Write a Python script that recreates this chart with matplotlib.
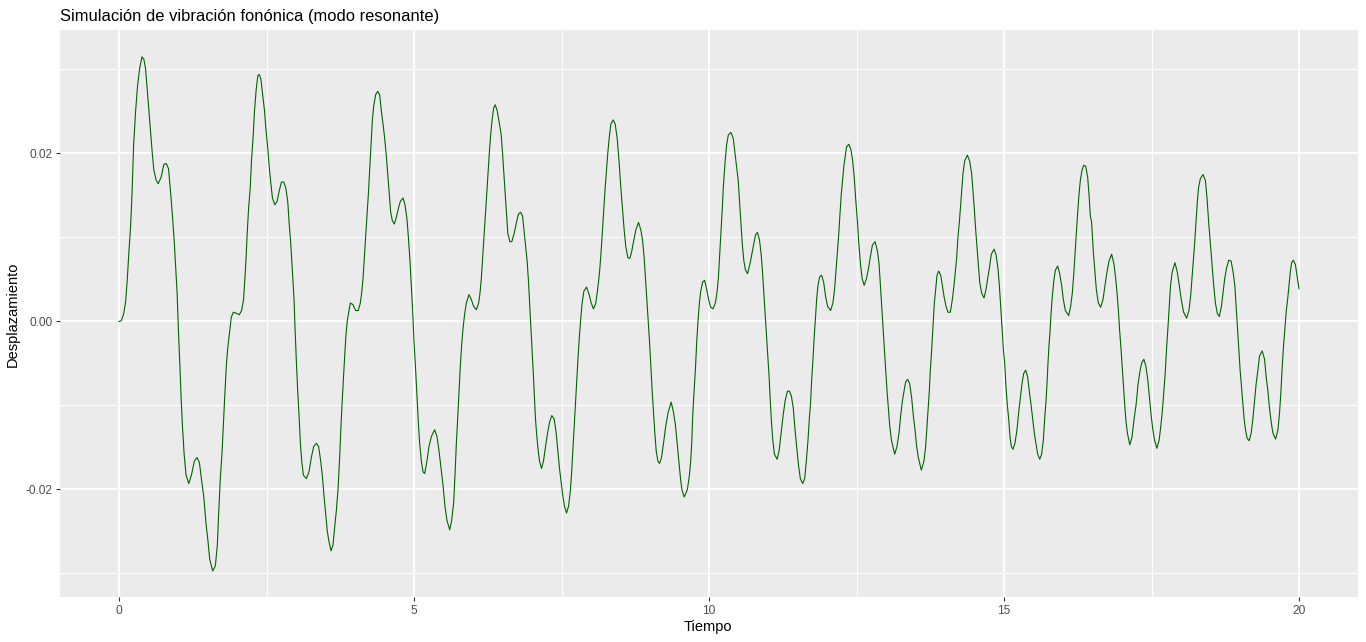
import matplotlib
matplotlib.use("Agg")
import matplotlib.pyplot as plt

# valores (tiempo, desplazamiento)
tiempo = [
    0.000, 0.039, 0.079, 0.113, 0.141, 0.169, 0.197, 0.220, 0.248, 0.282,
    0.315, 0.349, 0.389, 0.422, 0.450, 0.479, 0.507, 0.535, 0.563, 0.591,
    0.631, 0.664, 0.715, 0.760, 0.800, 0.839, 0.873, 0.901, 0.935, 0.963,
    0.985, 1.008, 1.030, 1.053, 1.075, 1.104, 1.137, 1.182, 1.227, 1.278,
    1.323, 1.363, 1.396, 1.436, 1.475, 1.509, 1.537, 1.588, 1.633, 1.667,
    1.689, 1.717, 1.745, 1.768, 1.791, 1.819, 1.841, 1.869, 1.903, 1.937,
    1.982, 2.038, 2.078, 2.111, 2.134, 2.151, 2.173, 2.196, 2.224, 2.247,
    2.275, 2.297, 2.325, 2.354, 2.376, 2.404, 2.432, 2.466, 2.489, 2.523,
    2.545, 2.568, 2.601, 2.641, 2.680, 2.714, 2.753, 2.793, 2.827, 2.860,
    2.883, 2.911, 2.939, 2.967, 2.984, 3.007, 3.029, 3.052, 3.074, 3.097,
    3.125,
    3.175, 3.220, 3.260, 3.299, 3.345, 3.384, 3.418, 3.446, 3.475, 3.503,
    3.531, 3.559, 3.593, 3.627, 3.655, 3.684, 3.712, 3.740, 3.757, 3.780,
    3.802, 3.825, 3.847, 3.870, 3.898, 3.921, 3.966, 4.011, 4.056, 4.090,
    4.113, 4.136, 4.158, 4.181, 4.203, 4.226, 4.249, 4.271, 4.294, 4.316,
    4.350, 4.384, 4.418, 4.446, 4.475, 4.503, 4.531, 4.559, 4.582, 4.605,
    4.633, 4.667, 4.701, 4.734, 4.768, 4.814, 4.847, 4.881, 4.904, 4.932,
    4.955, 4.977, 5.000, 5.028, 5.051, 5.073, 5.096, 5.124, 5.153, 5.181,
    5.220, 5.254, 5.294, 5.350, 5.390, 5.424, 5.458, 5.492, 5.525, 5.559,
    5.605, 5.638, 5.672, 5.695, 5.718, 5.740, 5.763, 5.785, 5.808, 5.831,
    5.859, 5.887, 5.932, 5.972, 6.011, 6.056, 6.096, 6.119, 6.141, 6.164,
    6.186, 6.209, 6.232, 6.254, 6.277, 6.299, 6.322, 6.350,
    6.376, 6.410, 6.444, 6.478, 6.500, 6.523, 6.545, 6.568, 6.590, 6.624,
    6.658, 6.698, 6.737, 6.771, 6.805, 6.839, 6.867, 6.895, 6.918, 6.941,
    6.963, 6.986, 7.008, 7.025, 7.042, 7.059, 7.082, 7.105, 7.127, 7.161,
    7.195, 7.229, 7.263, 7.297, 7.336, 7.376, 7.410, 7.438, 7.466, 7.494,
    7.523, 7.551, 7.585, 7.619, 7.647, 7.669, 7.692, 7.715, 7.737, 7.760,
    7.782, 7.805, 7.828, 7.850, 7.879, 7.924, 7.969, 8.003, 8.042, 8.082,
    8.105, 8.127, 8.150, 8.172, 8.195, 8.218, 8.240, 8.263, 8.285, 8.308,
    8.336, 8.376, 8.410, 8.444, 8.477, 8.506, 8.534, 8.562, 8.590, 8.624,
    8.658, 8.692, 8.726, 8.760, 8.805, 8.845, 8.873, 8.901, 8.924, 8.946,
    8.969, 8.992, 9.014, 9.037, 9.059, 9.082, 9.105, 9.133, 9.161, 9.195,
    9.229, 9.268, 9.308, 9.359, 9.398, 9.432, 9.460, 9.489, 9.517, 9.540,
    9.580,
    9.634, 9.668, 9.690, 9.707, 9.724, 9.747, 9.769, 9.792, 9.814, 9.837,
    9.859, 9.893, 9.927, 9.961, 9.994, 10.028, 10.068, 10.107, 10.135, 10.158,
    10.175, 10.192, 10.208, 10.225, 10.242, 10.259, 10.276, 10.298, 10.327, 10.372,
    10.411, 10.439, 10.467, 10.495, 10.518, 10.541, 10.563, 10.591, 10.619, 10.653,
    10.693, 10.726, 10.760, 10.788, 10.822, 10.856, 10.884, 10.907, 10.929, 10.952,
    10.974, 10.997, 11.019, 11.036, 11.059, 11.081, 11.109, 11.154, 11.188, 11.222,
    11.256, 11.289, 11.329, 11.363, 11.397, 11.430, 11.458, 11.486, 11.515, 11.548,
    11.588, 11.622, 11.650, 11.678, 11.700, 11.723, 11.740, 11.762, 11.785, 11.802,
    11.824, 11.847, 11.875, 11.909, 11.943, 11.976, 12.010, 12.061, 12.100, 12.128,
    12.151, 12.173, 12.196, 12.218, 12.241, 12.264, 12.286, 12.309, 12.331, 12.371,
    12.404, 12.432, 12.461, 12.489, 12.517, 12.539, 12.568, 12.596, 12.630, 12.669,
    12.703, 12.737, 12.770, 12.815, 12.855, 12.883, 12.905, 12.928, 12.950, 12.973,
    12.995, 13.018, 13.041, 13.063, 13.091,
    13.147, 13.186, 13.220, 13.249, 13.277, 13.305, 13.333, 13.367, 13.401, 13.435,
    13.463, 13.492, 13.520, 13.548, 13.599, 13.644, 13.672, 13.695, 13.718, 13.734,
    13.751, 13.768, 13.785, 13.802, 13.819, 13.842, 13.864, 13.893, 13.927, 13.955,
    13.983, 14.017, 14.051, 14.090, 14.124, 14.153, 14.175, 14.198, 14.220, 14.243,
    14.260, 14.282, 14.305, 14.333, 14.379, 14.418, 14.452, 14.475, 14.497, 14.520,
    14.542, 14.565, 14.588, 14.621, 14.661, 14.695, 14.723, 14.751, 14.785, 14.831,
    14.864, 14.898, 14.921, 14.944, 14.966, 14.989, 15.011, 15.034, 15.056, 15.079,
    15.102, 15.124, 15.153, 15.186, 15.220, 15.249, 15.277, 15.305, 15.333, 15.367,
    15.401, 15.429, 15.458, 15.486, 15.514, 15.542, 15.571, 15.605, 15.638, 15.667,
    15.689, 15.712, 15.729, 15.746, 15.763, 15.780, 15.797, 15.819, 15.842, 15.870,
    15.910, 15.944, 15.977, 16.006, 16.040, 16.096, 16.130, 16.158, 16.181, 16.203,
    16.226, 16.249, 16.271, 16.294, 16.322, 16.350, 16.384, 16.418, 16.441, 16.463,
    16.485, 16.513, 16.542, 16.565, 16.599, 16.638, 16.678, 16.712, 16.746, 16.780,
    16.825, 16.865, 16.893, 16.916, 16.939, 16.961, 16.984, 17.007, 17.024, 17.046,
    17.069, 17.092, 17.132, 17.171, 17.205, 17.239, 17.273, 17.307, 17.336, 17.370,
    17.404, 17.438, 17.466, 17.494, 17.523, 17.551, 17.591, 17.630, 17.659, 17.687,
    17.710, 17.732, 17.755, 17.778, 17.800, 17.823, 17.851, 17.897, 17.937, 17.971,
    18.005, 18.044, 18.095, 18.135, 18.163, 18.186, 18.209, 18.231, 18.254, 18.277,
    18.299, 18.328, 18.373, 18.413, 18.441, 18.469, 18.498, 18.526, 18.554, 18.583,
    18.617, 18.651, 18.685, 18.713, 18.741, 18.770, 18.810, 18.849, 18.883, 18.912,
    18.934, 18.957, 18.980, 19.002, 19.025, 19.048, 19.070, 19.093, 19.121, 19.155,
    19.189, 19.218, 19.246, 19.274, 19.303, 19.331, 19.376, 19.416, 19.444, 19.473,
    19.501, 19.529, 19.558, 19.603, 19.643, 19.671, 19.694, 19.716, 19.739, 19.762,
    19.785, 19.807, 19.830, 19.853, 19.875, 19.904, 19.938, 19.966, 20.000,
]

desplazamiento = [
    0.0000, 0.0001, 0.0009, 0.0024, 0.0051, 0.0084, 0.0114, 0.0151, 0.0210, 0.0251,
    0.0281, 0.0301, 0.0315, 0.0312, 0.0301, 0.0276, 0.0251, 0.0226, 0.0201, 0.0180,
    0.0168, 0.0164, 0.0172, 0.0187, 0.0188, 0.0182, 0.0155, 0.0130, 0.0097, 0.0063,
    0.0034, -0.0012, -0.0049, -0.0091, -0.0124, -0.0158, -0.0183, -0.0193, -0.0183, -0.0166,
    -0.0162, -0.0168, -0.0187, -0.0208, -0.0241, -0.0262, -0.0283, -0.0297, -0.0291, -0.0266,
    -0.0229, -0.0187, -0.0158, -0.0124, -0.0091, -0.0053, -0.0033, -0.0016, 0.0005, 0.0011,
    0.0010, 0.0008, 0.0013, 0.0026, 0.0051, 0.0072, 0.0105, 0.0134, 0.0159, 0.0193,
    0.0222, 0.0251, 0.0276, 0.0293, 0.0294, 0.0289, 0.0272, 0.0251, 0.0230, 0.0205,
    0.0185, 0.0168, 0.0147, 0.0139, 0.0143, 0.0155, 0.0166, 0.0166, 0.0159, 0.0143,
    0.0118, 0.0093, 0.0059, 0.0026, -0.0008, -0.0049, -0.0083, -0.0112, -0.0145, -0.0166,
    -0.0183,
    -0.0187, -0.0179, -0.0162, -0.0149, -0.0145, -0.0149, -0.0166, -0.0183, -0.0208, -0.0229,
    -0.0250, -0.0262, -0.0273, -0.0266, -0.0245, -0.0225, -0.0200, -0.0162, -0.0133, -0.0099,
    -0.0070, -0.0041, -0.0016, 0.0001, 0.0013, 0.0022, 0.0020, 0.0013, 0.0013, 0.0022,
    0.0034, 0.0051, 0.0076, 0.0101, 0.0126, 0.0151, 0.0180, 0.0210, 0.0239, 0.0256,
    0.0270, 0.0274, 0.0270, 0.0251, 0.0235, 0.0218, 0.0197, 0.0172, 0.0151, 0.0130,
    0.0120, 0.0116, 0.0124, 0.0134, 0.0143, 0.0147, 0.0139, 0.0122, 0.0101, 0.0072,
    0.0043, 0.0013, -0.0024, -0.0058, -0.0091, -0.0120, -0.0145, -0.0166, -0.0179, -0.0181,
    -0.0166, -0.0149, -0.0137, -0.0129, -0.0137, -0.0154, -0.0175, -0.0195, -0.0220, -0.0237,
    -0.0248, -0.0237, -0.0216, -0.0183, -0.0145, -0.0116, -0.0083, -0.0053, -0.0028, -0.0008,
    0.0009, 0.0022, 0.0032, 0.0026, 0.0018, 0.0014, 0.0022, 0.0034, 0.0051, 0.0076,
    0.0101, 0.0126, 0.0151, 0.0176, 0.0201, 0.0222, 0.0239, 0.0254,
    0.0258, 0.0251, 0.0237, 0.0222, 0.0201, 0.0176, 0.0151, 0.0126, 0.0105, 0.0095,
    0.0095, 0.0105, 0.0118, 0.0128, 0.0130, 0.0126, 0.0107, 0.0089, 0.0072, 0.0047,
    0.0018, -0.0012, -0.0041, -0.0066, -0.0091, -0.0116, -0.0137, -0.0154, -0.0166, -0.0175,
    -0.0166, -0.0149, -0.0133, -0.0120, -0.0112, -0.0116, -0.0133, -0.0154, -0.0175, -0.0191,
    -0.0208, -0.0220, -0.0228, -0.0220, -0.0204, -0.0183, -0.0154, -0.0124, -0.0095, -0.0066,
    -0.0041, -0.0016, 0.0005, 0.0022, 0.0036, 0.0041, 0.0032, 0.0022, 0.0015, 0.0022,
    0.0034, 0.0047, 0.0063, 0.0084, 0.0109, 0.0134, 0.0159, 0.0180, 0.0201, 0.0218,
    0.0235, 0.0240, 0.0235, 0.0218, 0.0189, 0.0159, 0.0134, 0.0109, 0.0089, 0.0076,
    0.0075, 0.0084, 0.0097, 0.0109, 0.0118, 0.0109, 0.0097, 0.0076, 0.0051, 0.0026,
    0.0001, -0.0024, -0.0053, -0.0083, -0.0108, -0.0133, -0.0154, -0.0166, -0.0169, -0.0162,
    -0.0145, -0.0124, -0.0108, -0.0096, -0.0108, -0.0124, -0.0145, -0.0166, -0.0187, -0.0200,
    -0.0209,
    -0.0200, -0.0183, -0.0166, -0.0145, -0.0112, -0.0083, -0.0058, -0.0024, 0.0001, 0.0022,
    0.0036, 0.0047, 0.0049, 0.0038, 0.0026, 0.0017, 0.0015, 0.0022, 0.0034, 0.0051,
    0.0072, 0.0093, 0.0114, 0.0134, 0.0159, 0.0176, 0.0193, 0.0210, 0.0222, 0.0225,
    0.0218, 0.0201, 0.0185, 0.0168, 0.0143, 0.0118, 0.0093, 0.0072, 0.0061, 0.0057,
    0.0068, 0.0080, 0.0093, 0.0103, 0.0106, 0.0097, 0.0080, 0.0059, 0.0034, 0.0009,
    -0.0016, -0.0041, -0.0066, -0.0091, -0.0120, -0.0141, -0.0158, -0.0164, -0.0154, -0.0133,
    -0.0112, -0.0095, -0.0083, -0.0083, -0.0089, -0.0104, -0.0129, -0.0149, -0.0170, -0.0187,
    -0.0193, -0.0187, -0.0166, -0.0141, -0.0116, -0.0095, -0.0070, -0.0045, -0.0016, 0.0001,
    0.0026, 0.0043, 0.0053, 0.0055, 0.0047, 0.0030, 0.0018, 0.0013, 0.0022, 0.0038,
    0.0059, 0.0080, 0.0101, 0.0126, 0.0151, 0.0168, 0.0185, 0.0197, 0.0208, 0.0211,
    0.0205, 0.0193, 0.0172, 0.0143, 0.0118, 0.0093, 0.0068, 0.0051, 0.0043, 0.0051,
    0.0063, 0.0078, 0.0091, 0.0095, 0.0084, 0.0068, 0.0043, 0.0018, -0.0008, -0.0033,
    -0.0058, -0.0083, -0.0104, -0.0124, -0.0141,
    -0.0158, -0.0149, -0.0133, -0.0112, -0.0095, -0.0083, -0.0072, -0.0069, -0.0074, -0.0091,
    -0.0112, -0.0129, -0.0149, -0.0162, -0.0177, -0.0166, -0.0149, -0.0124, -0.0099, -0.0083,
    -0.0058, -0.0041, -0.0020, 0.0001, 0.0022, 0.0038, 0.0055, 0.0060, 0.0055, 0.0043,
    0.0030, 0.0018, 0.0011, 0.0011, 0.0026, 0.0043, 0.0059, 0.0076, 0.0101, 0.0118,
    0.0134, 0.0155, 0.0176, 0.0191, 0.0198, 0.0191, 0.0176, 0.0155, 0.0134, 0.0109,
    0.0089, 0.0068, 0.0047, 0.0034, 0.0028, 0.0038, 0.0051, 0.0063, 0.0080, 0.0086,
    0.0080, 0.0063, 0.0043, 0.0018, -0.0008, -0.0033, -0.0049, -0.0078, -0.0099, -0.0116,
    -0.0137, -0.0149, -0.0152, -0.0145, -0.0129, -0.0108, -0.0091, -0.0074, -0.0062, -0.0058,
    -0.0066, -0.0083, -0.0099, -0.0116, -0.0133, -0.0145, -0.0158, -0.0164, -0.0158, -0.0141,
    -0.0116, -0.0095, -0.0074, -0.0049, -0.0028, -0.0012, 0.0009, 0.0030, 0.0047, 0.0061,
    0.0066, 0.0057, 0.0043, 0.0026, 0.0013, 0.0007, 0.0018, 0.0034, 0.0055, 0.0080,
    0.0105, 0.0130, 0.0151, 0.0168, 0.0180, 0.0186, 0.0185, 0.0172, 0.0151, 0.0126,
    0.0118, 0.0084, 0.0059, 0.0038, 0.0022, 0.0017, 0.0026, 0.0043, 0.0059, 0.0072,
    0.0080, 0.0068, 0.0051, 0.0034, 0.0013, -0.0012, -0.0033, -0.0058, -0.0078, -0.0099,
    -0.0120, -0.0133, -0.0147, -0.0137, -0.0116, -0.0099, -0.0074, -0.0058, -0.0049, -0.0045,
    -0.0053, -0.0070, -0.0091, -0.0112, -0.0129, -0.0141, -0.0151, -0.0141, -0.0124, -0.0104,
    -0.0083, -0.0062, -0.0033, -0.0008, 0.0018, 0.0043, 0.0059, 0.0070, 0.0059, 0.0043,
    0.0026, 0.0011, 0.0004, 0.0013, 0.0030, 0.0051, 0.0072, 0.0093, 0.0118, 0.0143,
    0.0160, 0.0170, 0.0175, 0.0168, 0.0147, 0.0118, 0.0093, 0.0068, 0.0043, 0.0022,
    0.0009, 0.0006, 0.0018, 0.0034, 0.0051, 0.0063, 0.0073, 0.0072, 0.0059, 0.0043,
    0.0018, -0.0008, -0.0033, -0.0058, -0.0078, -0.0099, -0.0116, -0.0129, -0.0139, -0.0142,
    -0.0133, -0.0116, -0.0095, -0.0074, -0.0058, -0.0041, -0.0035, -0.0045, -0.0066, -0.0083,
    -0.0104, -0.0120, -0.0133, -0.0140, -0.0129, -0.0108, -0.0083, -0.0053, -0.0028, -0.0008,
    0.0013, 0.0026, 0.0043, 0.0059, 0.0070, 0.0073, 0.0068, 0.0055, 0.0039,
]

x_ticks = [0, 5, 10, 15, 20]
x_minor = [2.5, 7.5, 12.5, 17.5]
y_ticks = [-0.02, 0.00, 0.02]
y_labels = ["-0.02", "0.00", "0.02"]
y_minor = [-0.03, -0.01, 0.01, 0.03]

titulo = "Simulación de vibración fonónica (modo resonante)"

plt.rcParams["font.family"] = ["Liberation Sans", "DejaVu Sans"]

W, H = 1366, 642
fig = plt.figure(figsize=(W / 100, H / 100), dpi=100)
ax = fig.add_axes([60 / W, 45 / H, 1298 / W, 567 / H])

# estilo tipo ggplot (theme_gray)
ax.set_facecolor("#EBEBEB")
for s in ax.spines.values():
    s.set_visible(False)

ax.plot(tiempo, desplazamiento, color="#006400", lw=0.8)

ax.set_xlim(-1, 21)
ax.set_ylim(-0.0328, 0.0347)
ax.set_xticks(x_ticks)
ax.set_xticks(x_minor, minor=True)
ax.set_yticks(y_ticks)
ax.set_yticklabels(y_labels)
ax.set_yticks(y_minor, minor=True)

ax.set_axisbelow(True)
ax.grid(which="major", color="white", lw=1.35)
ax.grid(which="minor", color="white", lw=0.7)

ax.tick_params(which="major", length=2.7, width=0.8, color="#333333",
               labelcolor="#4D4D4D", labelsize=8.6)
ax.tick_params(axis="y", pad=2.9)
ax.tick_params(axis="x", pad=3.2)
ax.tick_params(which="minor", length=0)

fig.text(60 / W, 1 - 20.7 / H, titulo, fontsize=11.85, ha="left", va="baseline")
fig.text(708 / W, 1 - 630.7 / H, "Tiempo", fontsize=10.5, ha="center", va="baseline")
fig.text(13 / W, 1 - 314 / H, "Desplazamiento", fontsize=10.5, rotation=90,
         ha="center", va="center")

fig.savefig("out.png", dpi=100)
